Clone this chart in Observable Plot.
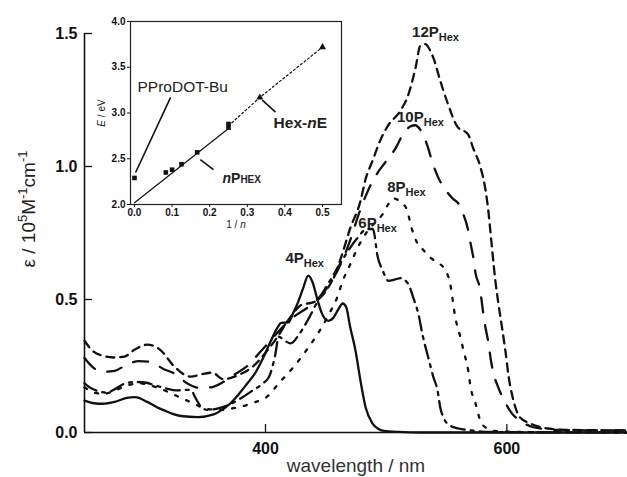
<!DOCTYPE html>
<html><head><meta charset="utf-8">
<script src="https://cdn.jsdelivr.net/npm/d3@7"></script>
<script src="https://cdn.jsdelivr.net/npm/@observablehq/plot@0.6"></script>
<style>
body{margin:0;background:#fff;}
#wrap{position:relative;width:627px;height:477px;overflow:hidden;}
#wrap svg{position:absolute;}
</style></head><body><div id="wrap"></div>
<script>
// ---------- main chart data: [wavelength nm, epsilon / 1e5 M^-1 cm^-1]
const series = ["4P", "6P", "8P", "10P", "12P"];
const s4P = [[250,0.12],[258,0.11],[265,0.108],[275,0.115],[285,0.13],[292,0.133],[302,0.115],[310,0.095],[316,0.083],[323,0.07],[330,0.062],[344,0.058],[357,0.068],[364,0.085],[371,0.11],[378,0.145],[385,0.185],[391,0.22],[398,0.28],[404,0.34],[410,0.395],[413,0.412],[419,0.414],[423,0.45],[427,0.49],[431,0.54],[435.5,0.59],[439,0.565],[443,0.5],[447,0.445],[452,0.42],[456,0.43],[460,0.46],[464,0.485],[467,0.47],[470,0.4],[474.5,0.31],[478.7,0.195],[483,0.094],[488.6,0.034],[493,0.015],[498,0.006],[510,0.002],[530,0],[700,0]];
const s6P = [[250,0.185],[256,0.165],[262,0.155],[268,0.15],[276,0.165],[284,0.185],[292,0.19],[300,0.188],[310,0.175],[318,0.165],[326,0.158],[333,0.16],[338,0.16],[342,0.13],[346,0.1],[352,0.085],[360,0.09],[370,0.105],[380,0.13],[390,0.16],[398,0.185],[403,0.21],[408,0.29],[411,0.36],[416,0.345],[421,0.335],[428,0.37],[436,0.43],[444,0.5],[452,0.56],[460,0.62],[468,0.68],[476,0.73],[484,0.765],[489,0.765],[493,0.66],[497,0.61],[502,0.57],[507,0.575],[512,0.58],[518,0.56],[523,0.5],[527,0.44],[530,0.37],[535,0.28],[539,0.21],[542.5,0.16],[545,0.09],[547.5,0.056],[553,0.026],[560,0.015],[570,0.008],[585,0.002],[700,0]];
const s8P = [[250,0.17],[258,0.15],[266,0.145],[276,0.16],[288,0.18],[296,0.185],[306,0.175],[318,0.155],[330,0.13],[340,0.11],[350,0.09],[362,0.085],[372,0.09],[382,0.1],[392,0.115],[400,0.13],[412,0.19],[423,0.245],[435,0.316],[444,0.376],[452,0.44],[459.6,0.51],[464,0.57],[470,0.63],[477,0.7],[485,0.76],[491,0.79],[497,0.82],[502,0.86],[506,0.88],[511,0.87],[517,0.84],[521,0.77],[526,0.71],[531,0.685],[536,0.66],[542,0.64],[547.5,0.62],[553,0.56],[557.4,0.43],[561.6,0.357],[564,0.31],[568,0.233],[570,0.17],[574,0.11],[578,0.045],[582,0.02],[590,0.006],[610,0.002],[700,0]];
const s10P = [[250,0.28],[257,0.245],[265,0.228],[275,0.232],[285,0.255],[295,0.268],[305,0.265],[315,0.24],[325,0.22],[335,0.185],[345,0.168],[355,0.17],[365,0.19],[375,0.22],[385,0.25],[395,0.3],[405,0.35],[415,0.4],[425,0.44],[435,0.47],[445,0.51],[455,0.57],[463,0.64],[470,0.72],[478,0.83],[485,0.91],[492,0.97],[500,1.02],[508,1.07],[515,1.13],[520,1.15],[524,1.155],[528,1.14],[534,1.08],[538,1.02],[543,0.96],[548,0.92],[555,0.88],[560,0.86],[564,0.82],[568,0.76],[570,0.71],[572.5,0.65],[574,0.6],[577.5,0.545],[579,0.5],[581,0.43],[582.5,0.39],[585,0.33],[586.5,0.28],[589,0.22],[592,0.18],[599,0.11],[604.5,0.07],[611,0.045],[622,0.02],[640,0.01],[670,0.008],[700,0.008]];
const s12P = [[250,0.345],[256,0.31],[264,0.29],[274,0.282],[283,0.285],[291,0.31],[302,0.33],[313,0.31],[324,0.25],[338,0.21],[348,0.22],[356,0.225],[365,0.2],[377,0.215],[390,0.25],[400,0.3],[410,0.36],[420,0.43],[430,0.48],[440,0.49],[448,0.52],[455,0.57],[462,0.65],[470.4,0.77],[478.7,0.87],[482.8,0.95],[488.6,1.02],[495.3,1.1],[501,1.15],[511.8,1.21],[517.6,1.26],[524.3,1.37],[528.4,1.455],[532.6,1.46],[536,1.44],[539,1.41],[545,1.32],[550.8,1.24],[559,1.15],[568,1.12],[572,1.07],[578,1.0],[582,0.92],[585,0.82],[586.5,0.75],[588,0.68],[590.5,0.57],[593,0.485],[596.5,0.38],[599,0.3],[601.5,0.21],[605.5,0.12],[611,0.056],[619.5,0.034],[633.5,0.015],[650,0.01],[700,0.008]];
const seriesData = {"4P": s4P, "6P": s6P, "8P": s8P, "10P": s10P, "12P": s12P};
const seriesDash = {"4P": null, "6P": "14,6,3,6", "8P": "3,9", "10P": "15,13", "12P": "8,6"};
const mainTicksY = [0, 0.5, 1.0, 1.5];
const mainTicksX = [400, 600];
const labelText = ["4P", "6P", "8P", "10P", "12P"];
const labelWl = [416.5, 476.9, 500.8, 509, 521.5];
const labelEps = [0.654, 0.786, 0.921, 1.184, 1.504];

// ---------- inset data: [1/n, E eV]
const nPHex = [[1/12, 2.35], [0.1, 2.38], [0.125, 2.44], [1/6, 2.57], [0.25, 2.84], [0.25, 2.88]];
const pprodot = [[0, 2.29]];
const hexNE = [[1/3, 3.17], [0.5, 3.72]];
const fitSolid = [[0, 2.02], [0.25, 2.83]];
const fitDotted = [[0.25, 2.86], [1/3, 3.17], [0.5, 3.72]];
const insetTicksX = [0, 0.1, 0.2, 0.3, 0.4, 0.5];
const insetTicksY = [2.0, 2.5, 3.0, 3.5, 4.0];
const leaders = [
  {x1: 0.003, y1: 2.35, x2: 0.096, y2: 3.17},
  {x1: 0.175, y1: 2.49, x2: 0.21, y2: 2.38},
  {x1: 0.34, y1: 3.14, x2: 0.375, y2: 3.01}
];
const insetLabels = [
  {text: "PProDOT-Bu", x: 0.008, y: 3.279, weight: "normal", size: 15.5},
  {text: "nPHEX", x: 0.234, y: 2.279, weight: "bold", size: 14},
  {text: "Hex-nE", x: 0.37, y: 2.885, weight: "bold", size: 15.5}
];

const FONT = '"Liberation Sans", Arial, Helvetica, sans-serif';
const INK = "#111";

const lineMarks = series.map(name => Plot.line(seriesData[name], {
  x: d => d[0], y: d => d[1], stroke: INK, strokeWidth: 2.3,
  strokeDasharray: seriesDash[name] || undefined, curve: "monotone-x"
}));

const main = Plot.plot({
  width: 627, height: 477,
  marginLeft: 84, marginRight: 0, marginTop: 33, marginBottom: 45,
  x: {domain: [250, 700]},
  y: {domain: [0, 1.5]},
  style: {fontFamily: FONT, background: "white", color: INK, overflow: "visible"},
  marks: [
    ...lineMarks,
    Plot.ruleX([250], {stroke: INK, strokeWidth: 1.6}),
    Plot.ruleY([0], {stroke: INK, strokeWidth: 1.6}),
    Plot.axisY({ticks: mainTicksY, tickFormat: d3.format(".1f"), tickSize: -8, tickPadding: 15, fontSize: 16, fontWeight: "bold", label: null, strokeWidth: 1.3}),
    Plot.axisX({ticks: mainTicksX, tickFormat: d3.format("d"), tickSize: -8, tickPadding: 18, fontSize: 16, fontWeight: "bold", label: null, strokeWidth: 1.3}),
    Plot.text(labelText, {x: (d, i) => labelWl[i], y: (d, i) => labelEps[i], text: d => d, textAnchor: "start", fontSize: 15, fontWeight: "bold", fill: "#222"}),
    Plot.text(["wavelength / nm"], {frameAnchor: "bottom", textAnchor: "middle", lineAnchor: "middle", dy: 33, fontSize: 19, fill: "#333"}),
    Plot.text(["YLABEL"], {frameAnchor: "left", textAnchor: "middle", lineAnchor: "middle", rotate: -90, dx: -56, dy: -24, fontSize: 19, fill: "#222"})
  ]
});

const inset = Plot.plot({
  width: 250, height: 224,
  marginLeft: 35, marginRight: 4, marginTop: 13, marginBottom: 28,
  x: {domain: [-0.0106, 0.5505]},
  y: {domain: [2, 4]},
  style: {fontFamily: FONT, background: "none", color: INK, overflow: "visible"},
  marks: [
    Plot.frame({stroke: "#222", strokeWidth: 1.2}),
    Plot.axisX({ticks: insetTicksX, tickFormat: d3.format(".1f"), tickSize: 3, tickPadding: 1, fontSize: 10, fontWeight: "bold", label: null}),
    Plot.axisY({ticks: insetTicksY, tickFormat: d3.format(".1f"), tickSize: 3, tickPadding: 2, fontSize: 10, fontWeight: "bold", label: null}),
    Plot.line(fitSolid, {x: d => d[0], y: d => d[1], stroke: INK, strokeWidth: 1.2}),
    Plot.line(fitDotted, {x: d => d[0], y: d => d[1], stroke: INK, strokeWidth: 1.2, strokeDasharray: "2,2.5"}),
    Plot.dot(nPHex, {x: d => d[0], y: d => d[1], symbol: "square", r: 2.6, fill: INK}),
    Plot.dot(pprodot, {x: d => d[0], y: d => d[1], symbol: "square", r: 2.6, fill: INK}),
    Plot.dot(hexNE, {x: d => d[0], y: d => d[1], symbol: "triangle", r: 2.6, fill: INK}),
    Plot.link(leaders, {x1: "x1", y1: "y1", x2: "x2", y2: "y2", stroke: INK, strokeWidth: 1.6}),
    ...insetLabels.map(l => Plot.text([l], {x: "x", y: "y", text: "text", textAnchor: "start", fontSize: l.size, fontWeight: l.weight, fill: "#222"})),
    Plot.text(["1 / n"], {frameAnchor: "bottom", textAnchor: "middle", lineAnchor: "middle", dy: 20, fontSize: 10, fill: "#222"}),
    Plot.text(["E / eV"], {frameAnchor: "left", textAnchor: "middle", lineAnchor: "middle", rotate: -90, dx: -29, fontSize: 10, fill: "#222"})
  ]
});

const wrap = document.getElementById("wrap");
main.style.left = "0px"; main.style.top = "0px";
inset.style.left = "95px"; inset.style.top = "8px";
wrap.appendChild(main);
wrap.appendChild(inset);

function rich(svg, plain, parts) {
  d3.select(svg).selectAll("text").filter(function () { return this.textContent === plain; }).each(function () {
    const t = d3.select(this);
    t.text(null);
    let shift = 0;
    for (const p of parts) {
      const ts = t.append("tspan").text(p.t);
      if (p.size) ts.attr("font-size", p.size);
      if (p.italic) ts.attr("font-style", "italic");
      if (p.weight) ts.attr("font-weight", p.weight);
      const target = p.shift || 0;
      if (target !== shift) { ts.attr("dy", target - shift); shift = target; }
    }
  });
}
for (const s of labelText) rich(main, s, [{t: s}, {t: "Hex", size: 11, shift: 4}]);
rich(main, "YLABEL", [{t: "ε / 10"}, {t: "5", size: 13, shift: -8}, {t: "M"}, {t: "-1", size: 13, shift: -8}, {t: "cm"}, {t: "-1", size: 13, shift: -8}]);
rich(inset, "nPHEX", [{t: "n", italic: true}, {t: "P"}, {t: "HEX", size: 10}]);
rich(inset, "Hex-nE", [{t: "Hex-"}, {t: "n", italic: true}, {t: "E"}]);
rich(inset, "1 / n", [{t: "1 / "}, {t: "n", italic: true}]);
rich(inset, "E / eV", [{t: "E", italic: true}, {t: " / eV"}]);
</script></body></html>
